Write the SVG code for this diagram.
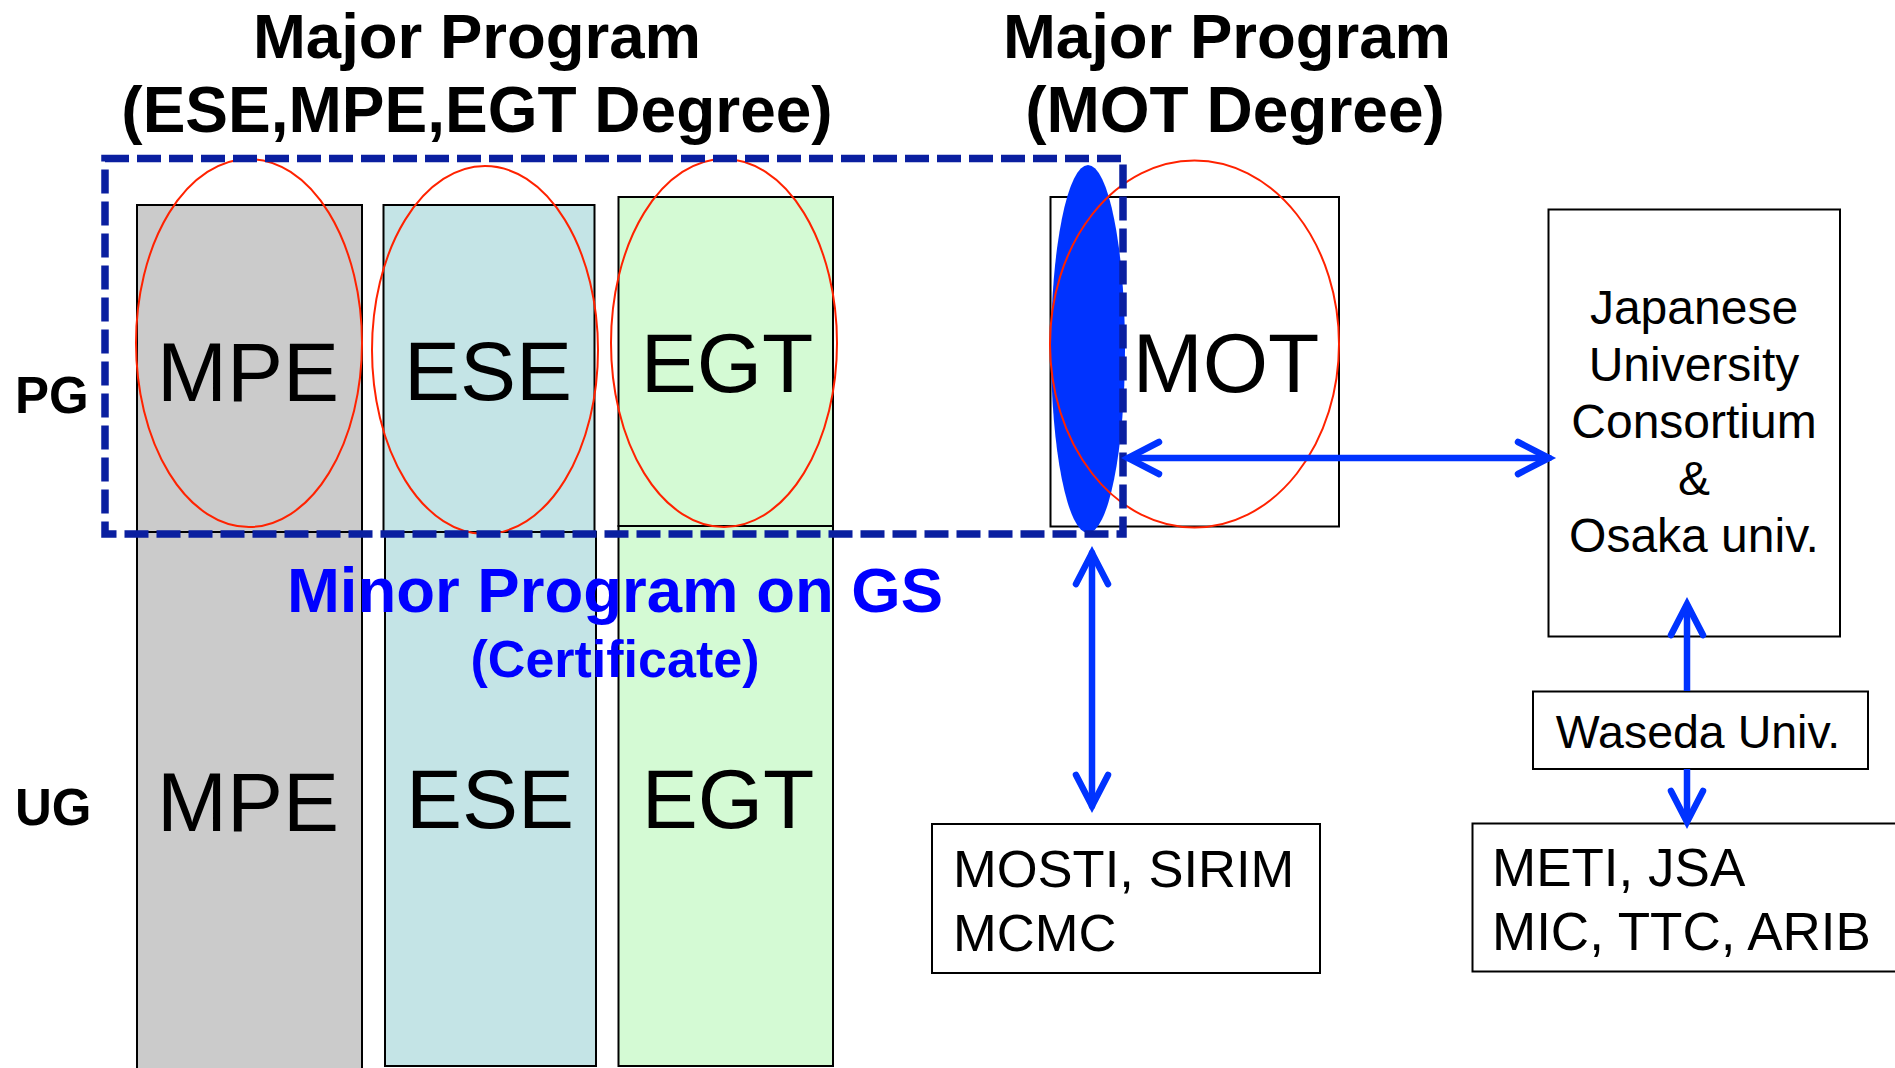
<svg xmlns="http://www.w3.org/2000/svg" width="1895" height="1068" viewBox="0 0 1895 1068">
<defs>
<style>
.t{font-family:"Liberation Sans",Arial,sans-serif;fill:#000}
.b{font-weight:bold}
.mid{text-anchor:middle}
.col{stroke:#000;stroke-width:2}
.box{fill:#fff;stroke:#000;stroke-width:2}
.red{fill:none;stroke:#FF2200;stroke-width:2}
.conn{fill:none;stroke:#0033FF;stroke-width:6.5;stroke-linecap:round}
.minor{fill:#0000FF}
</style>
<marker id="chev" markerUnits="userSpaceOnUse" viewBox="-40 -20 44 40" markerWidth="44" markerHeight="40" refX="0" refY="0" orient="auto-start-reverse" style="overflow:visible">
<path d="M -31 -16 L 0 0 L -31 16" fill="none" stroke="#0033FF" stroke-width="6.5" stroke-linecap="round" stroke-linejoin="miter"/>
</marker>
</defs>
<rect width="1895" height="1068" fill="#fff"/>

<g id="titles">
<text class="t b mid" x="477" y="58" font-size="63.5">Major Program</text>
<text class="t b mid" x="477" y="132" font-size="64">(ESE,MPE,EGT Degree)</text>
<text class="t b mid" x="1227" y="58" font-size="63.5">Major Program</text>
<text class="t b mid" x="1235" y="132" font-size="64">(MOT Degree)</text>
</g>

<g id="levels">
<text class="t b" x="15" y="413" font-size="51">PG</text>
<text class="t b" x="15" y="825" font-size="51">UG</text>
</g>

<g id="ug-mpe"><rect class="col" x="137" y="532" width="225" height="545" fill="#CBCBCB"/><text class="t mid" x="248" y="831" font-size="84">MPE</text></g>
<g id="ug-ese"><rect class="col" x="385" y="532" width="211" height="534" fill="#C4E4E6"/><text class="t mid" x="490" y="828" font-size="84">ESE</text></g>
<g id="ug-egt"><rect class="col" x="618.5" y="526" width="214.5" height="540" fill="#D4FAD4"/><text class="t mid" x="728" y="828" font-size="84">EGT</text></g>

<g id="pg-mpe"><rect class="col" x="137" y="205" width="225" height="327" fill="#CBCBCB"/><ellipse class="red" cx="249" cy="343" rx="113" ry="184"/><text class="t mid" x="248" y="401" font-size="84">MPE</text></g>
<g id="pg-ese"><rect class="col" x="383.5" y="205" width="211" height="327" fill="#C4E4E6"/><ellipse class="red" cx="485" cy="350" rx="113" ry="184"/><text class="t mid" x="488" y="400" font-size="84">ESE</text></g>
<g id="pg-egt"><rect class="col" x="618.5" y="197" width="214.5" height="329" fill="#D4FAD4"/><ellipse class="red" cx="724" cy="343" rx="113" ry="184"/><text class="t mid" x="727" y="392" font-size="84">EGT</text></g>

<g id="pg-mot"><rect class="box" x="1050.5" y="197" width="288.5" height="329.5"/><ellipse cx="1088" cy="349" rx="37" ry="184" fill="#0033FF"/><ellipse class="red" cx="1194.5" cy="344" rx="144.5" ry="183.5"/><text class="t mid" x="1226" y="392" font-size="84">MOT</text></g>

<g id="minor-program">
<rect x="105" y="158.5" width="1018" height="375.5" fill="none" stroke="#0A1FA0" stroke-width="7.5" stroke-dasharray="24 8"/>
<text class="t b mid minor" x="615" y="612" font-size="63.5">Minor Program on GS</text>
<text class="t b mid minor" x="615" y="677" font-size="52">(Certificate)</text>
</g>

<g id="japan-consortium"><rect class="box" x="1548.5" y="209.5" width="291.5" height="427"/>
<text class="t mid" x="1694" y="324" font-size="48">Japanese</text>
<text class="t mid" x="1694" y="381" font-size="48">University</text>
<text class="t mid" x="1694" y="438" font-size="48">Consortium</text>
<text class="t mid" x="1694" y="495" font-size="48">&amp;</text>
<text class="t mid" x="1694" y="552" font-size="48">Osaka univ.</text>
</g>

<g id="waseda"><rect class="box" x="1533" y="691.5" width="335" height="77.5"/><text class="t mid" x="1698" y="748" font-size="46.5">Waseda Univ.</text></g>

<g id="mosti"><rect class="box" x="932" y="824" width="388" height="149"/>
<text class="t" x="953" y="887" font-size="52.5">MOSTI, SIRIM</text>
<text class="t" x="953" y="951" font-size="52.5">MCMC</text></g>

<g id="meti"><rect class="box" x="1472.5" y="823.5" width="440" height="148"/>
<text class="t" x="1492" y="886" font-size="53">METI, JSA</text>
<text class="t" x="1492" y="950" font-size="53">MIC, TTC, ARIB</text></g>

<g id="connectors">
<line class="conn" x1="1128" y1="458" x2="1549" y2="458" marker-start="url(#chev)" marker-end="url(#chev)"/>
<line class="conn" x1="1092" y1="553" x2="1092" y2="806" marker-start="url(#chev)" marker-end="url(#chev)"/>
<line class="conn" x1="1687" y1="691" x2="1687" y2="604" marker-end="url(#chev)" style="stroke-linecap:butt"/>
<line class="conn" x1="1687" y1="769" x2="1687" y2="822" marker-end="url(#chev)" style="stroke-linecap:butt"/>
</g>
</svg>
